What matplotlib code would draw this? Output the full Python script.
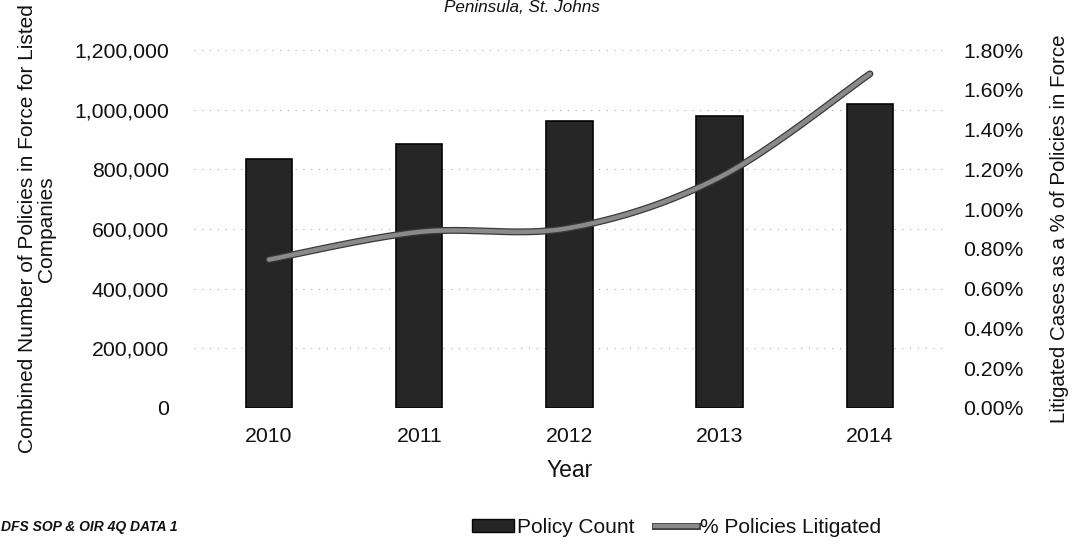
import numpy as np
import matplotlib
matplotlib.use("Agg")
import matplotlib.pyplot as plt
from matplotlib.ticker import FuncFormatter, MultipleLocator
from matplotlib.patches import Patch
from matplotlib.lines import Line2D
import matplotlib.patheffects as pe

years = ["2010", "2011", "2012", "2013", "2014"]
policy_count = [833000, 884000, 962000, 978000, 1018000]
pct_litigated = [0.746, 0.885, 0.905, 1.16, 1.68]  # percent

plt.rcParams['font.family'] = ['Liberation Sans', 'DejaVu Sans']

fig = plt.figure(figsize=(10.83, 5.52), dpi=100)
ax = fig.add_axes([0.179, 0.261, 0.8726 - 0.179, 0.9094 - 0.261])
x = np.arange(len(years))

ax.bar(x, policy_count, width=0.31, color='#262626', edgecolor='#050505', linewidth=1.2, zorder=2)
ax.set_ylim(0, 1200000)
ax.set_xlim(-0.5, len(years) - 0.5)
ax.yaxis.set_major_locator(MultipleLocator(200000))
ax.yaxis.set_major_formatter(FuncFormatter(lambda v, p: f"{int(v):,}"))
ax.grid(axis='y', linestyle=(0, (1, 6)), color='#aaaaaa', linewidth=0.8, zorder=0)
ax.set_xticks(x)
ax.set_xticklabels(years)
for s in ax.spines.values():
    s.set_visible(False)
ax.tick_params(axis='both', length=0, labelsize=15.3, colors='#111111')
ax.tick_params(axis='y', pad=18)
ax.tick_params(axis='x', pad=14)
ax.set_xlabel("Year", fontsize=16.5, labelpad=9, color='#111111')
ax.set_ylabel("Combined Number of Policies in Force for Listed\nCompanies", fontsize=15,
              color='#111111', linespacing=1.0)
ax.yaxis.set_label_coords(-0.183, 0.5)

ax2 = ax.twinx()
ax2.set_ylim(0, 1.8)
ax2.yaxis.set_major_locator(MultipleLocator(0.2))
ax2.yaxis.set_major_formatter(FuncFormatter(lambda v, p: f"{v:.2f}%"))
for s in ax2.spines.values():
    s.set_visible(False)
ax2.tick_params(axis='y', length=0, labelsize=15.3, colors='#111111', pad=13)
ax2.set_ylabel("Litigated Cases as a % of Policies in Force", fontsize=14.8,
               rotation=90, labelpad=19, color='#111111')

# smoothed line (Bezier like Excel "smoothed line")
px = x.astype(float)
py = np.array(pct_litigated, dtype=float)
P = np.column_stack([px, py])
Pext = np.vstack([P[0], P, P[-1]])
t = np.linspace(0, 1, 40)[:, None]
curve = []
for i in range(len(P) - 1):
    p0, p1, p2, p3 = Pext[i], Pext[i + 1], Pext[i + 2], Pext[i + 3]
    c1 = p1 + (p2 - p0) / 6.0
    c2 = p2 - (p3 - p1) / 6.0
    seg = ((1 - t) ** 3) * p1 + 3 * ((1 - t) ** 2) * t * c1 + 3 * (1 - t) * t ** 2 * c2 + t ** 3 * p2
    curve.append(seg)
curve = np.vstack(curve)
ax2.plot(curve[:, 0], curve[:, 1], color='#8a8a8a', linewidth=3.2, solid_capstyle='round', zorder=3,
         path_effects=[pe.Stroke(linewidth=5.0, foreground='#3a3a3a'), pe.Normal()])

fig.text(0.482, 0.986, "Peninsula, St. Johns", ha='center', va='center', fontsize=12.3,
         style='italic', color='#111111')
fig.text(0.001, 0.045, "DFS SOP & OIR 4Q DATA 1", ha='left', va='center', fontsize=10,
         style='italic', weight='bold', color='#111111')

handles = [Patch(facecolor='#262626', edgecolor='#050505', label='Policy Count'),
           Line2D([0], [0], color='#8a8a8a', linewidth=3.2,
                  path_effects=[pe.Stroke(linewidth=5.0, foreground='#3a3a3a'), pe.Normal()],
                  label='% Policies Litigated')]
fig.legend(handles=handles, loc='center', bbox_to_anchor=(0.625, 0.045), ncol=2, frameon=False,
           fontsize=15, handlelength=2.0, handleheight=0.6, handletextpad=0.15, columnspacing=1.0,
           labelcolor='#111111')

fig.savefig("out.png", dpi=100)
